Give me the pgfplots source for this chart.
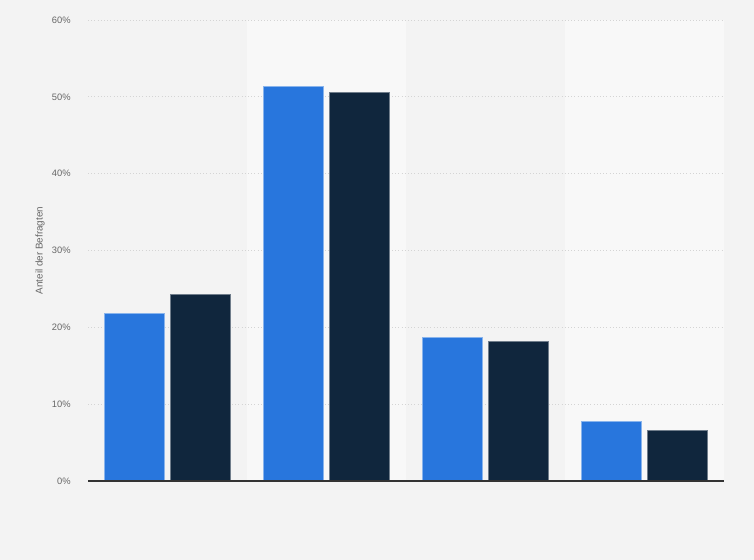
\documentclass[border=0pt]{standalone}
\usepackage{pgfplots}
\pgfplotsset{compat=1.18}
\usepackage{fontspec}
\setmainfont{Liberation Sans}

\definecolor{bgcol}{HTML}{F3F3F3}
\definecolor{bandcol}{HTML}{F8F8F8}
\definecolor{barblue}{HTML}{2876DD}
\definecolor{barnavy}{HTML}{10263D}
\definecolor{gridcol}{HTML}{D4D4D4}
\definecolor{tickcol}{HTML}{666666}

\begin{document}
\begin{tikzpicture}
\begin{axis}[
    set layers,
    clip=false,
    at={(66pt,59.25pt)},
    anchor=south west,
    scale only axis,
    width=477pt,
    height=345.75pt,
    xmin=-0.5, xmax=3.5,
    ymin=0, ymax=60,
    xtick=\empty,
    ytick={0,10,20,30,40,50,60},
    yticklabel={\pgfmathprintnumber{\tick}\%},
    /pgf/number format/assume math mode=true,
    major tick length=0pt,
    axis line style={draw=none},
    ymajorgrids,
    grid style={gridcol, dotted, line width=0.6pt},
    yticklabel style={font=\fontsize{7}{8}\selectfont, text=tickcol, xshift=-9.5pt},
    ylabel={Anteil der Befragten},
    every axis y label/.style={at={(axis description cs:-0.0755,0.5)}, rotate=90, anchor=center,
        font=\fontsize{7.4}{8}\selectfont, text=tickcol},
    ybar,
    bar width=45pt,
]
\begin{pgfonlayer}{axis background}
% page background and lighter bands behind the grid
\fill[bgcol] (rel axis cs:-0.3,-0.4) rectangle (rel axis cs:1.3,1.3);
\fill[bandcol] (axis cs:0.5,0) rectangle (axis cs:1.5,60);
\fill[bandcol] (axis cs:2.5,0) rectangle (axis cs:3.5,60);
\end{pgfonlayer}

% first series
\addplot[fill=barblue, draw=barblue!55!white, line width=0.5pt, bar shift=-24.75pt] coordinates {
    (0,21.8) (1,51.4) (2,18.7) (3,7.8)
};
% second series
\addplot[fill=barnavy, draw=barnavy!60!white, line width=0.5pt, bar shift=24.75pt] coordinates {
    (0,24.3) (1,50.6) (2,18.2) (3,6.6)
};

\draw[black!80, line width=0.8pt] (axis cs:-0.5,0) -- (axis cs:3.5,0);
\end{axis}
\pgfresetboundingbox
\path (0pt,0pt) rectangle (565.5pt,420pt);
\end{tikzpicture}
\end{document}
